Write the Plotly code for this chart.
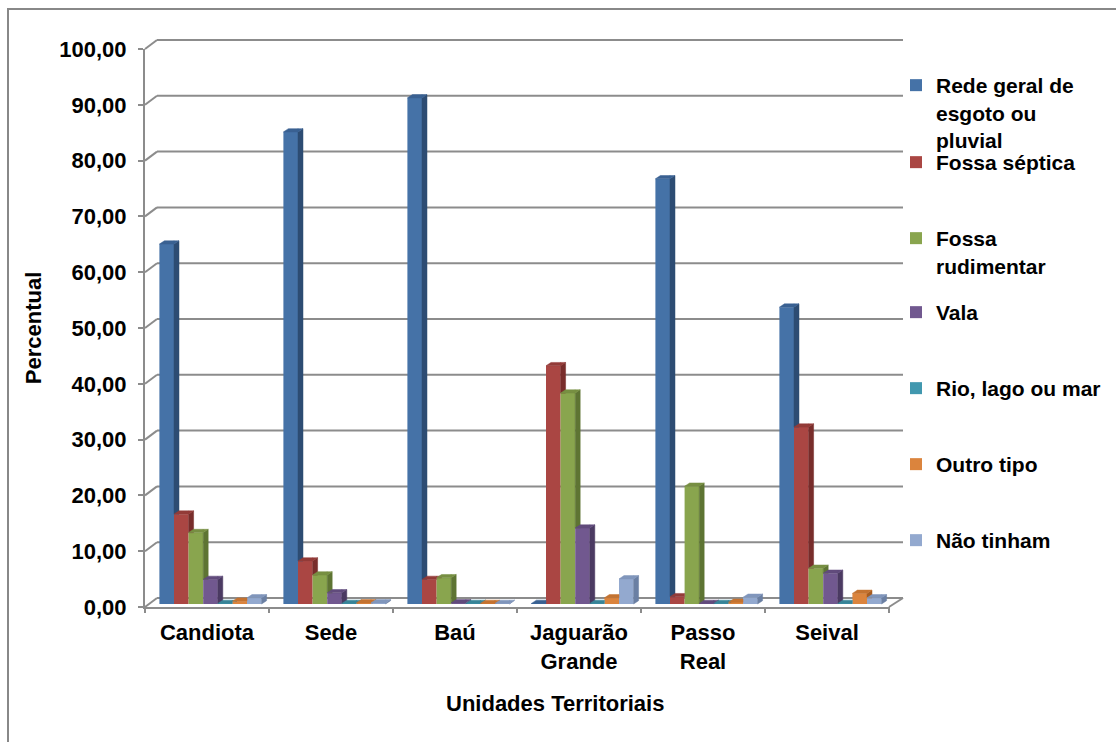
import plotly.graph_objects as go

# ---- data -------------------------------------------------------------
categories = ["Candiota", "Sede", "Baú", "Jaguarão Grande", "Passo Real", "Seival"]
category_labels = ["Candiota", "Sede", "Baú", "Jaguarão<br>Grande", "Passo<br>Real", "Seival"]

rede_geral = [64.5, 84.6, 90.7, 0.1, 76.2, 53.2]
fossa_septica = [16.1, 7.7, 4.4, 42.7, 1.3, 31.7]
fossa_rudimentar = [12.8, 5.2, 4.7, 37.8, 21.1, 6.4]
vala = [4.4, 2.0, 0.2, 13.6, 0.1, 5.5]
rio_lago_mar = [0.1, 0.1, 0.1, 0.1, 0.1, 0.1]
outro_tipo = [0.5, 0.2, 0.1, 1.1, 0.3, 1.9]
nao_tinham = [1.1, 0.2, 0.1, 4.5, 1.2, 1.1]

series_names = [
    "Rede geral de<br>esgoto ou<br>pluvial",
    "Fossa séptica",
    "Fossa<br>rudimentar",
    "Vala",
    "Rio, lago ou mar",
    "Outro tipo",
    "Não tinham",
]
series_values = [rede_geral, fossa_septica, fossa_rudimentar, vala,
                 rio_lago_mar, outro_tipo, nao_tinham]

y_tick_values = [0, 10, 20, 30, 40, 50, 60, 70, 80, 90, 100]
y_tick_labels = ["0,00", "10,00", "20,00", "30,00", "40,00", "50,00",
                 "60,00", "70,00", "80,00", "90,00", "100,00"]

# ---- styles (front, side, top shades of each 3D column) ---------------
front_colors = ["#4572A7", "#AA4643", "#89A54E", "#71588F", "#4198AF", "#DB843D", "#93A9CF"]
side_colors = ["#2D4C73", "#782D2B", "#5E7433", "#4B3A62", "#2A6A7B", "#A75C20", "#6A7FA3"]
top_colors = ["#3A6192", "#933B38", "#778F42", "#614B7C", "#388498", "#C47331", "#8096BC"]
grid_color = "#8C8C8C"
FONT = "Liberation Sans, Arial, sans-serif"

# ---- geometry (pixels) ------------------------------------------------
FIG_W, FIG_H = 1116, 742
PLOT_L, PLOT_R, PLOT_T, PLOT_B = 145, 889, 49, 607   # front face of the box
X_PX = (PLOT_R - PLOT_L) / len(categories)          # pixels per category
Y_PX = (PLOT_B - PLOT_T) / 100.0                    # pixels per percent
WALL_DX, WALL_DY = 12, 9       # depth of floor / back wall
WALL_RIGHT = 903               # right end of the back wall
ROW_DX, ROW_DY = 3.5, 3        # offset of the column row behind the front edge
BAR_W_PX = 14.6
BAR_DX, BAR_DY = 5, 3.3        # depth of each column

bw = BAR_W_PX / X_PX
row_dx = ROW_DX / X_PX
base = ROW_DY / Y_PX
ddx = BAR_DX / X_PX
ddy = BAR_DY / Y_PX
n_series = len(series_values)


def clip_above(poly, c):
    """Keep the part of a convex polygon with y >= c."""
    out = []
    n = len(poly)
    for k in range(n):
        p, q = poly[k], poly[(k + 1) % n]
        p_in, q_in = p[1] >= c, q[1] >= c
        if p_in:
            out.append(p)
        if p_in != q_in:
            t = (c - p[1]) / (q[1] - p[1])
            out.append((p[0] + t * (q[0] - p[0]), c))
    return out


def poly_xy(polys):
    xs, ys = [], []
    for poly in polys:
        if len(poly) < 3:
            continue
        xs += [p[0] for p in poly] + [poly[0][0], None]
        ys += [p[1] for p in poly] + [poly[0][1], None]
    return xs, ys


fig = go.Figure()

# front faces of the columns
for j, (name, vals) in enumerate(zip(series_names, series_values)):
    centers = [i + row_dx + (j - (n_series - 1) / 2) * bw for i in range(len(categories))]
    fig.add_trace(go.Bar(
        x=centers, y=vals, base=base, width=bw,
        name=name, marker=dict(color=front_colors[j], line=dict(width=0)),
        customdata=categories,
        hovertemplate="%{customdata}<br>%{y:.2f}<extra></extra>",
        legend="legend" if j == 0 else f"legend{j + 1}",
    ))

# side and top faces, hidden where the next column covers them
for j, vals in enumerate(series_values):
    sides, tops = [], []
    for i, v in enumerate(vals):
        xc = i + row_dx + (j - (n_series - 1) / 2) * bw
        xl, xr = xc - bw / 2, xc + bw / 2
        b, t = base, base + v
        side = [(xr, b), (xr + ddx, b + ddy), (xr + ddx, t + ddy), (xr, t)]
        top_left = [(xl, t), (xl + ddx, t + ddy), (xr, t + ddy), (xr, t)]
        top_right = [(xr, t), (xr, t + ddy), (xr + ddx, t + ddy)]
        if j < n_series - 1:
            c = base + series_values[j + 1][i]
            side = clip_above(side, c)
            top_right = clip_above(top_right, c)
        sides.append(side)
        tops += [top_left, top_right]
    for polys, col in ((sides, side_colors[j]), (tops, top_colors[j])):
        xs, ys = poly_xy(polys)
        fig.add_trace(go.Scatter(
            x=xs, y=ys, mode="lines", fill="toself", fillcolor=col,
            line=dict(color=col, width=0.5), hoverinfo="skip", showlegend=False,
        ))


def paper(xpx, ypx):
    return ((xpx - PLOT_L) / (PLOT_R - PLOT_L), (PLOT_B - ypx) / (PLOT_B - PLOT_T))


shapes = []


def seg(p0, p1, color=grid_color, width=2):
    (x0, y0), (x1, y1) = paper(*p0), paper(*p1)
    shapes.append(dict(type="line", xref="paper", yref="paper",
                       x0=x0, y0=y0, x1=x1, y1=y1, layer="below",
                       line=dict(color=color, width=width)))


# back wall gridlines with the short diagonals to the front axis
for v in y_tick_values:
    yf = PLOT_B - v * Y_PX
    yb = yf - WALL_DY
    seg((PLOT_L, yf), (PLOT_L + WALL_DX, yb))
    seg((PLOT_L + WALL_DX, yb), (WALL_RIGHT, yb))
# right edge of the floor
seg((PLOT_R, PLOT_B), (WALL_RIGHT, PLOT_B - WALL_DY))
# category boundary ticks on the floor edge
for k in range(len(categories) + 1):
    xb = PLOT_L + k * X_PX
    seg((xb, PLOT_B), (xb, PLOT_B + 6))

# outer chart border
bx0, by0 = paper(8, 9)
bx1, by1 = paper(FIG_W + 20, FIG_H + 20)
shapes.append(dict(type="rect", xref="paper", yref="paper", x0=bx0, y0=by1, x1=bx1, y1=by0,
                   line=dict(color="#888888", width=2), fillcolor="rgba(0,0,0,0)", layer="below"))

legend_first_line = [86, 163, 239, 313, 389, 465, 541]
legend_font = dict(family=FONT, size=21, color="black", weight="bold")
legends = {}
for j, yc in enumerate(legend_first_line):
    key = "legend" if j == 0 else f"legend{j + 1}"
    legends[key] = dict(
        xref="container", yref="container", x=896 / FIG_W, y=1 - (yc - 21) / FIG_H,
        xanchor="left", yanchor="top", valign="top", font=legend_font,
        bgcolor="rgba(0,0,0,0)", borderwidth=0, itemclick=False, itemdoubleclick=False,
    )

tick_font = dict(family=FONT, size=22, color="black", weight="bold")
xt, yt = paper(555, 703)

fig.update_layout(
    width=FIG_W, height=FIG_H,
    margin=dict(l=PLOT_L, r=FIG_W - PLOT_R, t=PLOT_T, b=FIG_H - PLOT_B, autoexpand=False),
    paper_bgcolor="white", plot_bgcolor="rgba(0,0,0,0)",
    barmode="overlay",
    showlegend=True,
    shapes=shapes,
    xaxis=dict(
        range=[-0.5, len(categories) - 0.5], tickmode="array",
        tickvals=list(range(len(categories))), ticktext=category_labels,
        ticks="", showgrid=False, zeroline=False,
        showline=True, linecolor=grid_color, linewidth=2,
        tickfont=tick_font, ticklabelstandoff=5, fixedrange=True,
    ),
    yaxis=dict(
        range=[0, 100], tickmode="array", tickvals=y_tick_values, ticktext=y_tick_labels,
        ticks="outside", ticklen=5, tickwidth=2, tickcolor=grid_color,
        showline=True, linecolor=grid_color, linewidth=2,
        showgrid=False, zeroline=False, tickfont=tick_font, ticklabelstandoff=7,
        title=dict(text="Percentual", font=tick_font, standoff=12), fixedrange=True,
    ),
    annotations=[dict(
        text="Unidades Territoriais", xref="paper", yref="paper", x=xt, y=yt,
        xanchor="center", yanchor="middle", showarrow=False, font=tick_font,
    )],
    **legends,
)

fig.write_html("out.html")
